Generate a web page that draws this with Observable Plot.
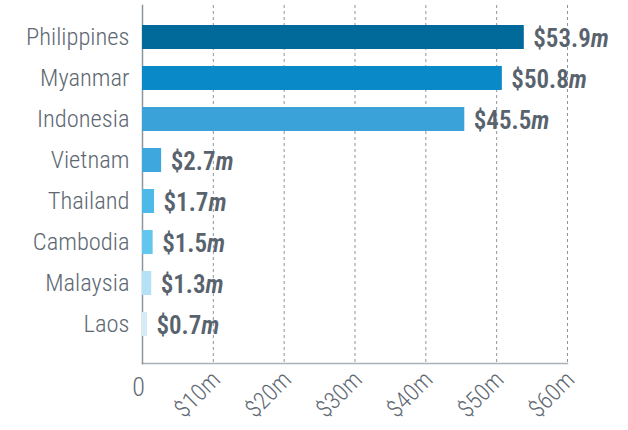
<!DOCTYPE html>
<html><head><meta charset="utf-8">
<script src="https://cdn.jsdelivr.net/npm/d3@7"></script>
<script src="https://cdn.jsdelivr.net/npm/@observablehq/plot@0.6"></script>
<style>body{margin:0;background:#fff}</style>
</head><body><div id="chart"></div>
<script>
const countries = ["Philippines","Myanmar","Indonesia","Vietnam","Thailand","Cambodia","Malaysia","Laos"];
const values = [53.9, 50.8, 45.5, 2.7, 1.7, 1.5, 1.3, 0.7];
const colors = ["#026a9a","#0a89c9","#3aa1d9","#3ea8de","#4cb9e8","#63c6ef","#b4e1f6","#d4ecf7"];
const xTicks = [10, 20, 30, 40, 50, 60];
const zeroTick = [0];

const data = countries.map((c, i) => ({country: c, value: values[i], color: colors[i], label: `$${values[i].toFixed(1)}m`}));
const FONT = "'Roboto Condensed', 'DejaVu Sans Condensed', sans-serif";

const plot = Plot.plot({
  width: 628, height: 430,
  marginLeft: 142, marginRight: 61, marginTop: 5, marginBottom: 67,
  style: {fontFamily: FONT, background: "#fff"},
  x: {domain: [0, 60]},
  y: {domain: countries, range: [16, 344], paddingInner: 0.415, paddingOuter: 0.2075},
  marks: [
    Plot.gridX(xTicks, {stroke: "#8c959d", strokeOpacity: 1, strokeDasharray: "3,3"}),
    Plot.frame({anchor: "bottom", stroke: "#a7b1b9", strokeWidth: 1.5}),
    Plot.frame({anchor: "left", stroke: "#8c959d", strokeWidth: 1.5}),
    Plot.barX(data, {x: "value", y: "country", fill: "color"}),
    Plot.text(data, {x: "value", y: "country", text: "label", textAnchor: "start", dx: 9, dy: 1, fontWeight: 600, fontSize: 25, fill: "#58636e"}),
    Plot.axisY({tickSize: 0, tickPadding: 13, fontSize: 24.5, fontWeight: 300, color: "#5d6872", label: null}),
    Plot.axisX(xTicks, {tickRotate: -45, tickSize: 0, tickPadding: 12, dx: 3, fontSize: 24, fontWeight: 300, color: "#5f6a74", tickFormat: d => `$${d}m`, label: null}),
    Plot.axisX(zeroTick, {tickSize: 0, tickPadding: 14, dx: -4, fontSize: 26, fontWeight: 300, color: "#5f6a74", tickFormat: d => `${d}`, label: null})
  ]
});
document.getElementById("chart").append(plot);

// italic "m" in value labels
d3.select(plot).selectAll("text").each(function() {
  const t = this.textContent;
  const m = /^(\$\d+\.\d)m$/.exec(t);
  if (m) {
    const sel = d3.select(this);
    sel.text(null);
    sel.append("tspan").text(m[1]);
    sel.append("tspan").attr("font-style", "italic").text("m");
  }
});
</script>
</body></html>
